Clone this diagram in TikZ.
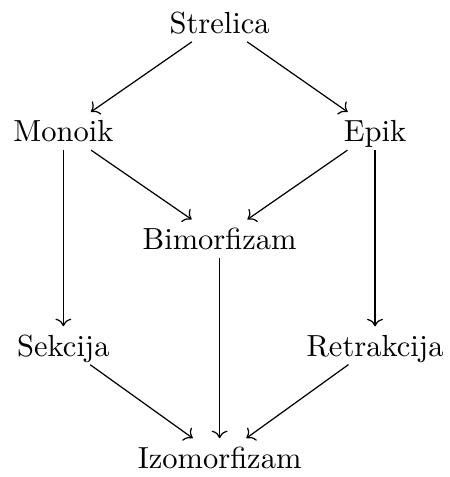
\documentclass[tikz,border=0pt]{standalone}
\usepackage{amsmath}
\usepackage{tikz}
\usetikzlibrary{positioning}
\usetikzlibrary{arrows.meta}
\tikzstyle{obj}=[inner sep=0.6ex, text depth=0ex]
\begin{document}
\begin{tikzpicture}[line width = 0.4pt, ->]
				
				\useasboundingbox (0,0) rectangle (5.173,-5.495);
				
				\node (str) [obj] at (2.53,-0.26) {Strelica};
				\node (mono) [obj] at (0.73,-1.51) {Monoik};
				\node (epi) [obj] at (4.32,-1.51) {Epik};
				\node (bim) [obj] at (2.53,-2.75) {Bimorfizam};
				\node (sek) [obj] at (0.73,-3.98) {Sekcija};
				\node (ret) [obj] at (4.32,-3.98) {Retrakcija};
				\node (izo) [obj] at (2.53,-5.27) {Izomorfizam};
				
				\draw (str) to (mono);
				\draw (str) to (epi);
				\draw (mono) to (bim);
				\draw (epi) to (bim);
				\draw (mono) to (sek);
				\draw (epi) to (ret);
				\draw (bim) to (izo);
				\draw (sek) to (izo);
				\draw (ret) to (izo);
				\end{tikzpicture}
\end{document}
